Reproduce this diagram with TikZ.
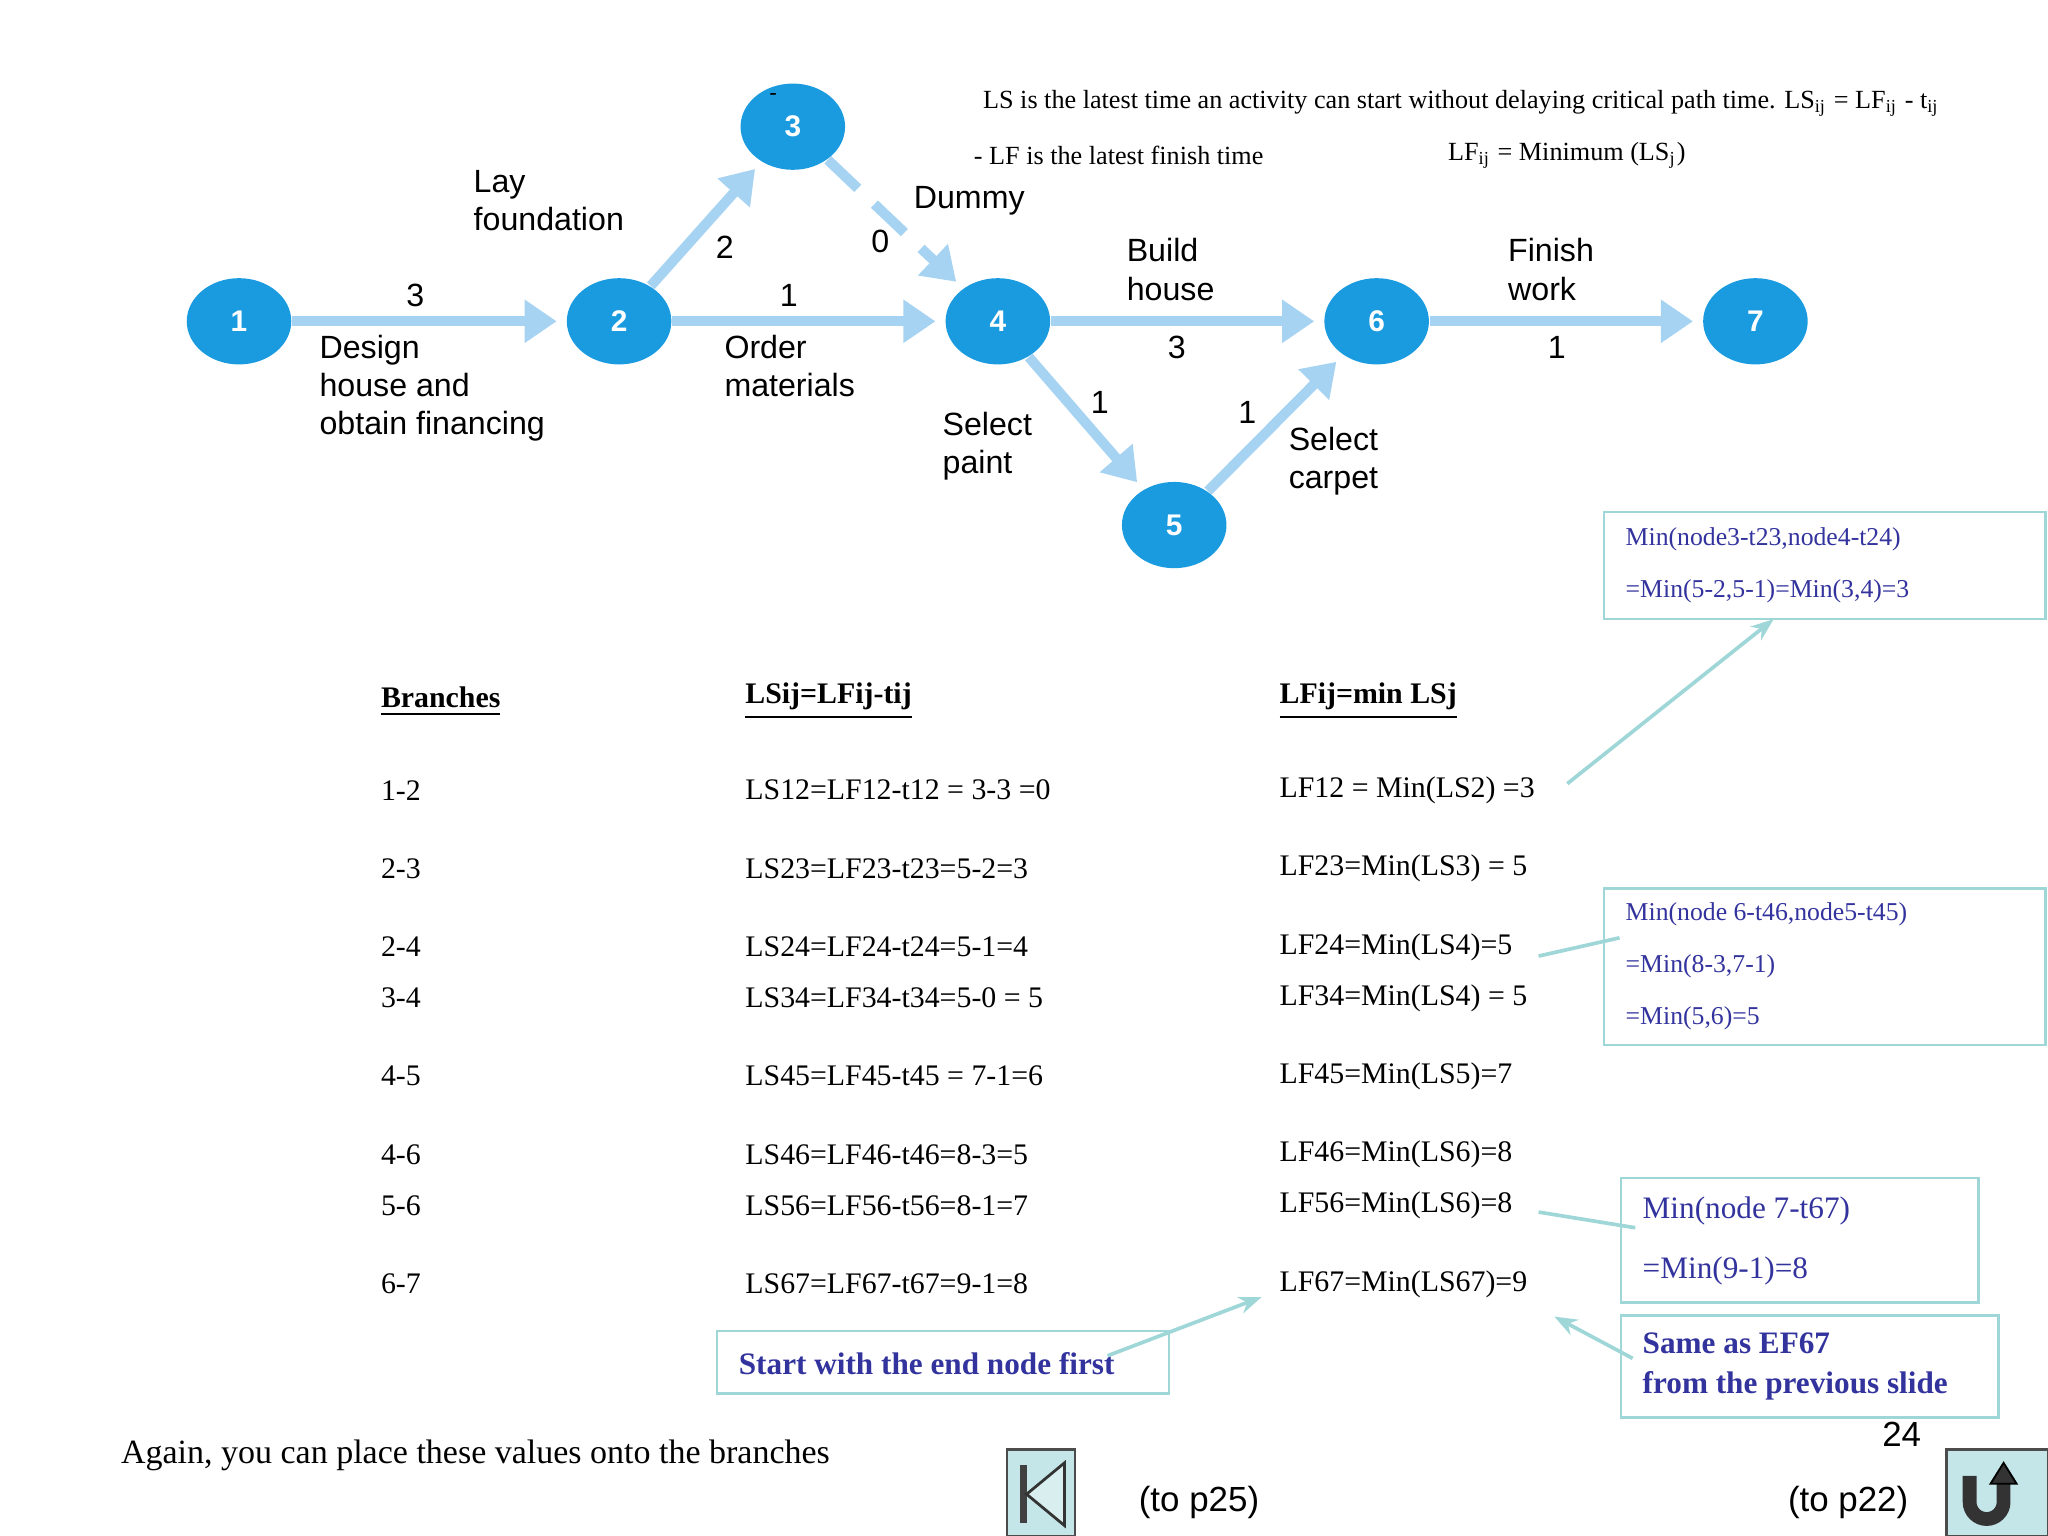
\documentclass[tikz,border=0pt]{standalone}
\usepackage{fontspec}
\setmainfont{Liberation Serif}
\setsansfont{Liberation Sans}
\usetikzlibrary{arrows.meta,shapes.geometric}
\definecolor{nodeblue}{HTML}{1A9BE0}
\definecolor{arrblue}{HTML}{A6D3F2}
\definecolor{tealc}{HTML}{9FD6D8}
\definecolor{callout}{HTML}{33339E}
\newcommand{\myLab}{\sffamily\fontsize{7pt}{8.3pt}\selectfont}
\newcommand{\myTab}{\rmfamily\fontsize{6.5pt}{7.5pt}\selectfont}
\newcommand{\myCal}{\rmfamily\fontsize{5.6pt}{6.5pt}\selectfont\color{callout}}
\tikzset{
 ev/.style={ellipse,fill=nodeblue,text=white,font=\sffamily\bfseries\fontsize{6.5pt}{7pt}\selectfont,minimum width=0.8cm,minimum height=0.66cm,inner sep=0pt},
 act/.style={draw=arrblue,line width=2.2pt,-{Triangle[length=7pt,width=9pt]},shorten >=2pt},
 lbl/.style={font=\myLab,align=left,anchor=north west,inner sep=0pt},
 num/.style={font=\myLab,inner sep=0pt},
 cell/.style={font=\myTab,anchor=west,inner sep=0pt},
 cbox/.style={draw=tealc,line width=0.6pt,inner sep=0pt},
 cline/.style={draw=tealc,line width=0.8pt},
}
\begin{document}
\begin{tikzpicture}[x=0.01cm,y=-0.01cm]
\useasboundingbox (0,0) rectangle (1568,1176);
\node[ev] (n1) at (183,246) {1};
\node[ev] (n2) at (474,246) {2};
\node[ev] (n3) at (607,97) {3};
\node[ev] (n4) at (764,246) {4};
\node[ev] (n5) at (899,402) {5};
\node[ev] (n6) at (1054,246) {6};
\node[ev] (n7) at (1344,246) {7};
\node[font=\sffamily\tiny] (dash) at (592,74) {-};
\draw[act] (n1) -- (n2);
\draw[act] (n2) -- (n3);
\draw[act,dash pattern=on 9pt off 5pt] (n3) -- (n4);
\draw[act] (n2) -- (n4);
\draw[act] (n4) -- (n6);
\draw[act] (n6) -- (n7);
\draw[act] (n4) -- (n5);
\draw[act] (n5) -- (n6);
\node[num] (t12) at (318,226) {3};
\node[num] (t23) at (555,189) {2};
\node[num] (t34) at (674,185) {0};
\node[num] (t24) at (604,226) {1};
\node[num] (t46) at (901,266) {3};
\node[num] (t67) at (1192,266) {1};
\node[num] (t45) at (842,308) {1};
\node[num] (t56) at (955,316) {1};
\node[lbl] (l12) at (244,256) {Design\\house and\\obtain financing};
\node[lbl] (l23) at (362,130) {Lay\\foundation};
\node[lbl] (l34) at (699,142) {Dummy};
\node[lbl] (l24) at (554,256) {Order\\materials};
\node[lbl] (l46) at (862,182) {Build\\house};
\node[lbl] (l67) at (1154,182) {Finish\\work};
\node[lbl] (l45) at (721,315) {Select\\paint};
\node[lbl] (l56) at (986,326) {Select\\carpet};
\node[font=\rmfamily\fontsize{5.7pt}{6.5pt}\selectfont,anchor=west,inner sep=0pt] (ls) at (752,79) {LS is the latest time an activity can start without delaying critical path time. LS$_{\mathrm{ij}}$ = LF$_{\mathrm{ij}}$ - t$_{\mathrm{ij}}$};
\node[font=\rmfamily\fontsize{5.7pt}{6.5pt}\selectfont,anchor=west,inner sep=0pt] (lf) at (745,119) {- LF is the latest finish time};
\node[font=\rmfamily\fontsize{5.7pt}{6.5pt}\selectfont,anchor=west,inner sep=0pt] (lf2) at (1108,119) {LF$_{\mathrm{ij}}$ = Minimum (LS$_{\mathrm{j}}$)};
% table
\node[cell] (h1) at (291,537) {\bfseries\underline{Branches}};
\node[cell] (h2) at (570,537) {\bfseries\underline{LSij=LFij-tij}};
\node[cell] (h3) at (979,537) {\bfseries\underline{LFij=min LSj}};
\foreach \y/\a/\b/\c [count=\i] in {
605/1-2/{LS12=LF12-t12 = 3-3 =0}/{LF12 = Min(LS2) =3},
665/2-3/{LS23=LF23-t23=5-2=3}/{LF23=Min(LS3) = 5},
725/2-4/{LS24=LF24-t24=5-1=4}/{LF24=Min(LS4)=5},
764/3-4/{LS34=LF34-t34=5-0 = 5}/{LF34=Min(LS4) = 5},
824/4-5/{LS45=LF45-t45 = 7-1=6}/{LF45=Min(LS5)=7},
884/4-6/{LS46=LF46-t46=8-3=5}/{LF46=Min(LS6)=8},
923/5-6/{LS56=LF56-t56=8-1=7}/{LF56=Min(LS6)=8},
983/6-7/{LS67=LF67-t67=9-1=8}/{LF67=Min(LS67)=9}}{
 \node[cell] (a\i) at (291,\y) {\a};
 \node[cell] (b\i) at (570,\y) {\b};
 \node[cell] (c\i) at (979,\y) {\c};
}
% callouts
\draw[cbox] (1228,392) rectangle (1566,474);
\node[anchor=west,inner sep=0pt,font=\myCal] (k1) at (1244,413) {Min(node3-t23,node4-t24)};
\node[anchor=west,inner sep=0pt,font=\myCal] (k1b) at (1244,453) {=Min(5-2,5-1)=Min(3,4)=3};
\draw[cbox] (1228,680) rectangle (1566,800);
\node[anchor=west,inner sep=0pt,font=\myCal] (k2) at (1244,700) {Min(node 6-t46,node5-t45)};
\node[anchor=west,inner sep=0pt,font=\myCal] (k2b) at (1244,740) {=Min(8-3,7-1)};
\node[anchor=west,inner sep=0pt,font=\myCal] (k2c) at (1244,780) {=Min(5,6)=5};
\draw[cbox] (1241,902) rectangle (1515,997);
\node[anchor=west,inner sep=0pt,font=\rmfamily\fontsize{6.8pt}{8pt}\selectfont\color{callout}] (k3) at (1257,927) {Min(node 7-t67)};
\node[anchor=west,inner sep=0pt,font=\rmfamily\fontsize{6.8pt}{8pt}\selectfont\color{callout}] (k3b) at (1257,973) {=Min(9-1)=8};
\draw[cbox] (1241,1007) rectangle (1530,1085);
\node[anchor=west,inner sep=0pt,align=left,font=\rmfamily\bfseries\fontsize{6.8pt}{8.8pt}\selectfont\color{callout}] (k4) at (1257,1046) {Same as EF67\\from the previous slide};
\draw[cbox] (549,1019) rectangle (895,1067);
\node[anchor=west,inner sep=0pt,font=\rmfamily\bfseries\fontsize{6.8pt}{8pt}\selectfont\color{callout}] (k5) at (565,1044) {Start with the end node first};
\coordinate (p1) at (1200,600); \coordinate (q1) at (1358,474);
\draw[cline,-{Stealth[length=5pt]}] (p1) -- (q1);
\coordinate (p2) at (1178,732); \coordinate (q2) at (1240,718);
\draw[cline] (p2) -- (q2);
\coordinate (p3) at (1178,928); \coordinate (q3) at (1252,940);
\draw[cline] (p3) -- (q3);
\coordinate (p4) at (1250,1040); \coordinate (q4) at (1190,1008);
\draw[cline,-{Stealth[length=5pt]}] (p4) -- (q4);
\coordinate (p5) at (848,1038); \coordinate (q5) at (966,993);
\draw[cline,-{Stealth[length=5pt]}] (p5) -- (q5);
% footer
\node[anchor=west,inner sep=0pt,font=\rmfamily\fontsize{7.4pt}{8.5pt}\selectfont] (again) at (92,1114) {Again, you can place these values onto the branches};
\node[font=\sffamily\fontsize{7.6pt}{8.5pt}\selectfont,inner sep=0pt] (p25) at (918,1150) {(to p25)};
\node[font=\sffamily\fontsize{7.6pt}{8.5pt}\selectfont,inner sep=0pt] (p22) at (1415,1150) {(to p22)};
\node[font=\sffamily\fontsize{7.6pt}{8.5pt}\selectfont,inner sep=0pt] (pg) at (1456,1098) {24};
\draw[fill=tealc!60!white,draw=black!70,line width=0.6pt] (771,1110) rectangle (823,1176);
\fill[black!75] (781,1122) rectangle (786,1166);
\draw[fill=tealc!40!white,draw=black!80,line width=0.6pt] (815,1120) -- (786,1144) -- (815,1168) -- cycle;
\draw[fill=tealc!60!white,draw=black!70,line width=0.6pt] (1490,1110) rectangle (1568,1176);
\draw[black!80,line width=3pt] (1508,1130) -- (1508,1150) arc[start angle=180,end angle=360,x radius=13,y radius=-13] -- (1534,1132);
\draw[fill=black!80] (1524,1136) -- (1534,1120) -- (1544,1136) -- cycle;
\end{tikzpicture}
\end{document}
